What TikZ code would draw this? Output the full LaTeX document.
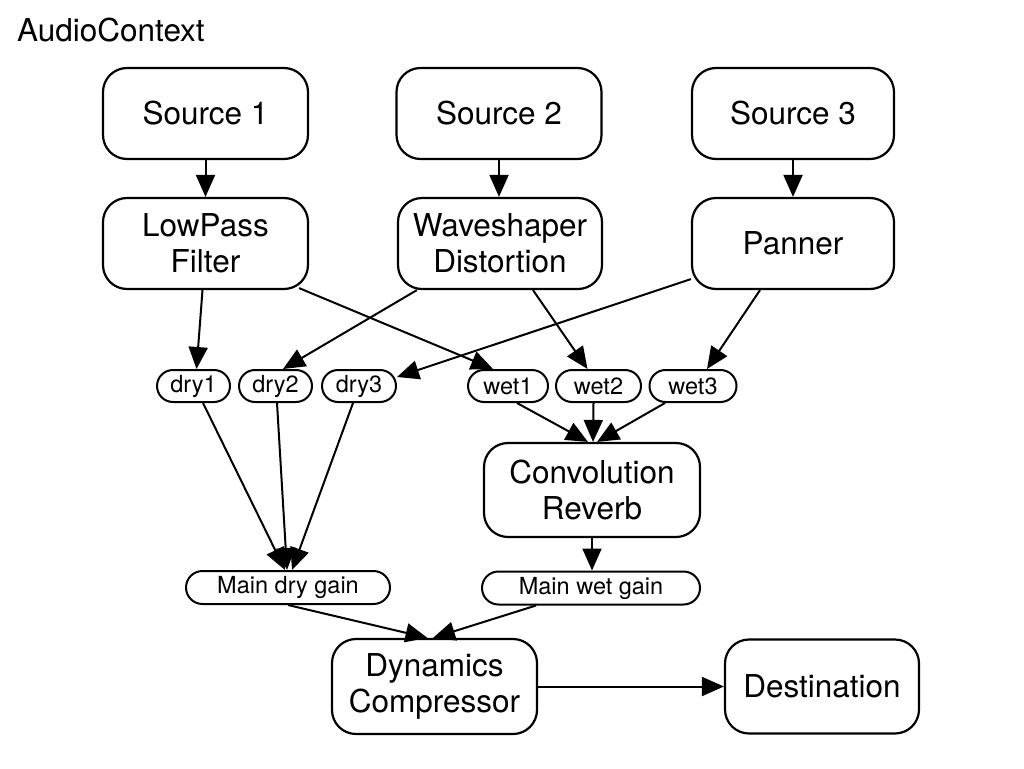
\documentclass[tikz,border=0pt]{standalone}
\usepackage{fontspec}
\setmainfont{TeX Gyre Heros}
\usetikzlibrary{arrows.meta,shapes.misc}
\begin{document}
\begin{tikzpicture}[x=1pt,y=-1pt,
  box/.style={draw,line width=2.2pt,rounded corners=24pt,align=center,
    font=\fontsize{31.5}{36}\selectfont,inner sep=0pt},
  pill/.style={draw,line width=2pt,rounded rectangle,inner sep=0pt,
    minimum height=32pt,font=\fontsize{23.5}{26}\selectfont},
  conn/.style={line width=2pt,-{Triangle[length=22pt,width=19pt]}},
  lbl/.style={font=\fontsize{31.5}{34}\selectfont,inner sep=0pt,anchor=west}]
\useasboundingbox (0,0) rectangle (1024,768);
\fill[white] (0,0) rectangle (1024,768);
\node[lbl] (ctx) at (17,30) {AudioContext};
% top row
\node[box,minimum width=205pt,minimum height=91pt] (src1) at (205.5,113.5) {Source 1};
\node[box,minimum width=205pt,minimum height=91pt] (src2) at (499,113.5) {Source 2};
\node[box,minimum width=202pt,minimum height=91pt] (src3) at (793,113.5) {Source 3};
% second row
\node[box,minimum width=205pt,minimum height=91pt] (lp) at (205.5,243.5) {LowPass\\Filter};
\node[box,minimum width=204pt,minimum height=91pt] (ws) at (500,243.5) {Waveshaper\\Distortion};
\node[box,minimum width=202pt,minimum height=91pt] (pan) at (793,243.5) {Panner};
% pills
\node[pill,minimum width=73pt] (dry1) at (193.5,386) {dry1};
\node[pill,minimum width=73pt] (dry2) at (275.5,386) {dry2};
\node[pill,minimum width=74pt] (dry3) at (359,386) {dry3};
\node[pill,minimum width=80pt] (wet1) at (508,386) {wet1};
\node[pill,minimum width=85pt] (wet2) at (598.5,386) {wet2};
\node[pill,minimum width=87pt] (wet3) at (693,386) {wet3};
% reverb
\node[box,minimum width=216pt,minimum height=94pt] (conv) at (592,490) {Convolution\\Reverb};
% gains
\node[pill,minimum width=204pt,minimum height=33pt] (mdry) at (288,587.5) {Main dry gain};
\node[pill,minimum width=218pt,minimum height=33pt] (mwet) at (591,588) {Main wet gain};
% bottom
\node[box,minimum width=205pt,minimum height=95pt] (dyn) at (434.5,686.5) {Dynamics\\Compressor};
\node[box,minimum width=194pt,minimum height=94pt] (dest) at (822,686.5) {Destination};
% connectors
\draw[conn] (src1.south) -- (lp.north);
\draw[conn] (src2.south) -- (src2.south|-ws.north);
\draw[conn] (src3.south) -- (pan.north);
\draw[conn] ([xshift=-3pt]lp.south) -- ([xshift=3pt]dry1.north);
\draw[conn] ([shift={(-10pt,2pt)}]lp.south east) -- ([xshift=9pt]wet1.north west);
\draw[conn] ([xshift=20pt]ws.south west) -- ([xshift=7.5pt]dry2.north);
\draw[conn] ([xshift=33pt]ws.south) -- ([xshift=-11pt]wet2.north);
\draw[conn] ([yshift=11pt]pan.south west) -- ([yshift=9pt]dry3.east);
\draw[conn] ([xshift=-33pt]pan.south) -- ([xshift=14pt]wet3.north);
\draw[conn] ([xshift=9pt]wet1.south) -- ([xshift=-4pt]conv.north);
\draw[conn] ([xshift=-5pt]wet2.south) -- ([xshift=1pt]conv.north);
\draw[conn] ([xshift=-28pt]wet3.south) -- ([xshift=5pt]conv.north);
\draw[conn] ([xshift=9.5pt]dry1.south) -- ([xshift=-3pt]mdry.north);
\draw[conn] ([xshift=1.5pt]dry2.south) -- ([xshift=-1pt]mdry.north);
\draw[conn] ([xshift=-6pt]dry3.south) -- ([xshift=4pt]mdry.north);
\draw[conn] (conv.south) -- (conv.south|-mwet.north);
\draw[conn] (mdry.south) -- ([xshift=-7pt]dyn.north);
\draw[conn] ([xshift=-55pt]mwet.south) -- ([xshift=-1.5pt]dyn.north);
\draw[conn] (dyn.east) -- (dest.west|-dyn.east);
\end{tikzpicture}
\end{document}
